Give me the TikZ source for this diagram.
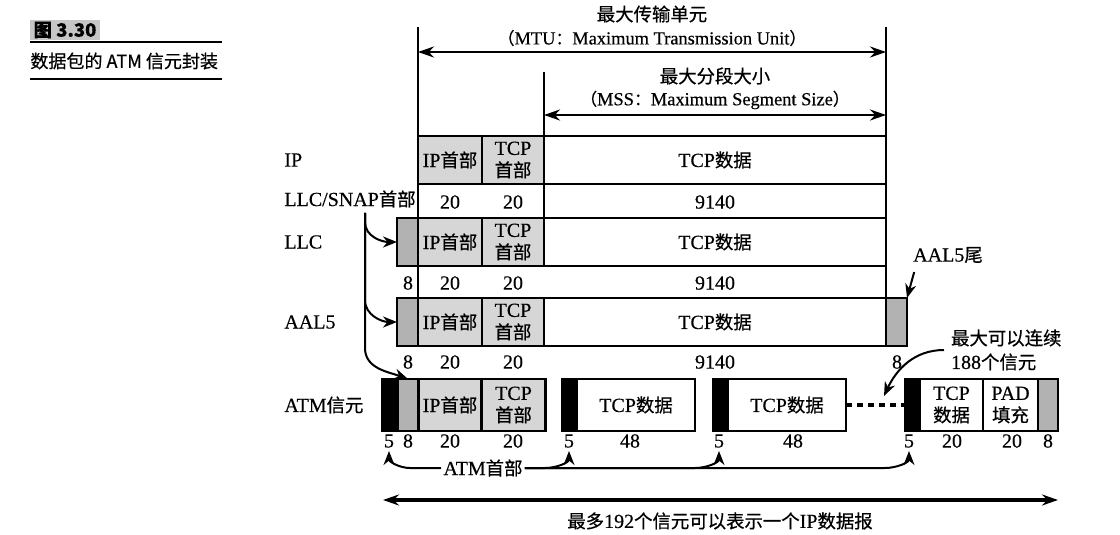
\documentclass[tikz,border=0pt]{standalone}
\usepackage{fontspec}
\usepackage{tikz}
\usetikzlibrary{arrows.meta}
\setmainfont{Liberation Serif}[FakeBold=0.4, AutoFakeBold=0.4]
\newfontfamily\cjk[Scale=0.92, FakeBold=0.6]{Noto Sans CJK SC}
\newcommand{\zh}[1]{{\cjk #1}}
\tikzset{
	cell size/.style 2 args={
		minimum width=#1*0.5pt,
		minimum height=#2*0.5pt
	},
	every cell/.style={
		draw,
		line width=1.3pt,
		inner sep=0pt,
		outer sep=0pt,
		align=center
	},
	hdr cell/.style={every cell, fill=gray!32},
	snap cell/.style={every cell, fill=gray!60},
	atm cell/.style={every cell, fill=black},
	data cell/.style={every cell, fill=white},
	size label/.style={inner sep=1.5pt},
	row label/.style={anchor=west, inner sep=0pt},
	guide/.style={line width=0.9pt},
	note arrow/.style={
		-{Stealth[length=7pt,width=5.5pt]},
		line width=1pt
	},
	span arrow/.style={
		{Stealth[length=8pt,width=5.5pt]}-{Stealth[length=8pt,width=5.5pt]},
		line width=1.3pt
	},
	gap line/.style={
		line width=2pt,
		dash pattern=on 3pt off 2.5pt
	},
}

\begin{document}
\begin{tikzpicture}[x=0.5pt, y=-0.5pt, font=\fontsize{10}{11}\selectfont]
\useasboundingbox (0,0) rectangle (1120,535);

%caption
\node[fill=gray!45, inner sep=1pt, minimum width=35pt, font=\cjk\bfseries] (figno) at (65,30) {图 3.30};
\node[row label, font=\fontsize{9.8}{11}\selectfont\cjk] (figttl) at (30,61) {数据包的 ATM 信元封装};
\draw[line width=1.2pt] (30,42) -- (222,42);
\draw[line width=1.2pt] (30,79) -- (222,79);

%MTU / MSS
\node (mtu1) at (652,14) {\zh{最大传输单元}};
\node[font=\fontsize{9.2}{11}\selectfont] (mtu2) at (652,38) {\zh{（}MTU\zh{：}Maximum Transmission Unit\zh{）}};
\node (mss1) at (715,76) {\zh{最大分段大小}};
\node[font=\fontsize{9.2}{11}\selectfont] (mss2) at (715,100) {\zh{（}MSS\zh{：}Maximum Segment Size\zh{）}};
\coordinate (mtuL) at (418,52);
\coordinate (mtuR) at (886,52);
\coordinate (mssL) at (544,115);
\coordinate (mssR) at (886,115);
\draw[span arrow] (mtuL) -- (mtuR);
\draw[span arrow] (mssL) -- (mssR);

%row labels
\node[row label] (lblIP) at (284,160) {IP};
\node[row label] (lblSNAP) at (284,199) {LLC/SNAP\zh{首部}};
\node[row label] (lblLLC) at (284,242) {LLC};
\node[row label] (lblAAL) at (284,322) {AAL5};
\node[row label] (lblATM) at (284,405) {ATM\zh{信元}};

%IP
\node[hdr cell, cell size={64}{48}] (ipH) at (450,160) {IP\zh{首部}};
\node[hdr cell, cell size={62}{48}] (ipT) at (513,160) {TCP\\\zh{首部}};
\node[data cell, cell size={342}{48}] (ipD) at (715,160) {TCP\zh{数据}};
	\node[size label] (n1a) at (450,202) {20};
	\node[size label] (n1b) at (513,202) {20};
	\node[size label] (n1c) at (715,202) {9140};

%LLC
\node[snap cell, cell size={21}{48}] (llcS) at (407.5,242) {};
\node[hdr cell, cell size={64}{48}] (llcH) at (450,242) {IP\zh{首部}};
\node[hdr cell, cell size={62}{48}] (llcT) at (513,242) {TCP\\\zh{首部}};
\node[data cell, cell size={342}{48}] (llcD) at (715,242) {TCP\zh{数据}};
	\node[size label] (n2a) at (408,283) {8};
	\node[size label] (n2b) at (450,283) {20};
	\node[size label] (n2c) at (513,283) {20};
	\node[size label] (n2d) at (715,283) {9140};

%AAL5
\node[snap cell, cell size={21}{48}] (aalS) at (407.5,322) {};
\node[hdr cell, cell size={64}{48}] (aalH) at (450,322) {IP\zh{首部}};
\node[hdr cell, cell size={62}{48}] (aalT) at (513,322) {TCP\\\zh{首部}};
\node[data cell, cell size={342}{48}] (aalD) at (715,322) {TCP\zh{数据}};
\node[snap cell, cell size={21}{48}] (aalE) at (896.5,322) {};
	\node[size label] (n3a) at (408,362) {8};
	\node[size label] (n3b) at (450,362) {20};
	\node[size label] (n3c) at (513,362) {20};
	\node[size label] (n3d) at (715,362) {9140};
	\node[size label] (n3e) at (897,362) {8};

%ATM cells
\node[atm cell, cell size={15}{52}] (c1a) at (390,405) {};
\node[snap cell, cell size={21}{52}] (c1b) at (408,405) {};
\node[hdr cell, cell size={63}{52}] (c1c) at (450,405) {IP\zh{首部}};
\node[hdr cell, cell size={64}{52}] (c1d) at (513.5,405) {TCP\\\zh{首部}};
\node[atm cell, cell size={15}{52}] (c2a) at (569.5,405) {};
\node[data cell, cell size={118}{52}] (c2b) at (636,405) {TCP\zh{数据}};
\node[atm cell, cell size={15}{52}] (c3a) at (720.5,405) {};
\node[data cell, cell size={118}{52}] (c3b) at (787,405) {TCP\zh{数据}};
\node[atm cell, cell size={15}{52}] (c4a) at (912.5,405) {};
\node[data cell, cell size={63}{52}] (c4b) at (951.5,405) {TCP\\\zh{数据}};
\node[data cell, cell size={55}{52}] (c4c) at (1010.5,405) {PAD\\\zh{填充}};
\node[snap cell, cell size={20}{52}] (c4d) at (1048,405) {};
	\node[size label] (n4a) at (389,441) {5};
	\node[size label] (n4b) at (408,441) {8};
	\node[size label] (n4c) at (450,441) {20};
	\node[size label] (n4d) at (513,441) {20};
	\node[size label] (n4e) at (569,441) {5};
	\node[size label] (n4f) at (630,441) {48};
	\node[size label] (n4g) at (719,441) {5};
	\node[size label] (n4h) at (793,441) {48};
	\node[size label] (n4i) at (909,441) {5};
	\node[size label] (n4j) at (952,441) {20};
	\node[size label] (n4k) at (1012,441) {20};
	\node[size label] (n4l) at (1048,441) {8};

\draw[gap line] (c3b.east) -- (c4a.west);

%guides
\draw[guide] (418,27) -- (aalH.north west);
\draw[guide] (886,27) -- (aalD.north east);
\draw[guide] (544,72) -- (llcT.north east);

%LLC/SNAP header
\coordinate (snapTop) at (365,213);
\draw[note arrow] (snapTop) -- (365,222) to[out=-90,in=180] (llcS.west);
\draw[note arrow] (snapTop) -- (365,300) to[out=-90,in=180] (aalS.west);
\draw[note arrow] (snapTop) -- (365,348) to[out=-90,in=160] (c1b.north);

%AAL5 trailer, 188 cells
\node (taillbl) at (948,255) {AAL5\zh{尾}};
\draw[note arrow] ([xshift=4pt,yshift=-1pt]taillbl.south west) -- (aalE.north east);
\node[align=left, anchor=west, font=\fontsize{10}{12}\selectfont] (maxlbl) at (944,350) {\zh{最大可以连续}\\188\zh{个信元}};
\coordinate (dashTip) at (884,396);
\draw[note arrow] (maxlbl.west) to[out=180,in=65] (dashTip);

%ATM header
\node[inner sep=1pt] (hdrlbl) at (483,468) {ATM\zh{首部}};
\draw[note arrow] (hdrlbl.west) -- (410,468) to[out=180,in=-90] (n4a.south);
\draw[note arrow] (hdrlbl.east) -- (545,468) to[out=0,in=-90] (n4e.south);
\draw[note arrow] (hdrlbl.east) -- (695,468) to[out=0,in=-90] (n4g.south);
\draw[note arrow] (hdrlbl.east) -- (885,468) to[out=0,in=-90] (n4i.south);

%total
\coordinate (totL) at (383,500);
\coordinate (totR) at (1058,500);
\draw[span arrow, line width=1.6pt] (totL) -- (totR);
\node (totlbl) at (720,521) {\zh{最多}192\zh{个信元可以表示一个}IP\zh{数据报}};

\end{tikzpicture}
\end{document}
